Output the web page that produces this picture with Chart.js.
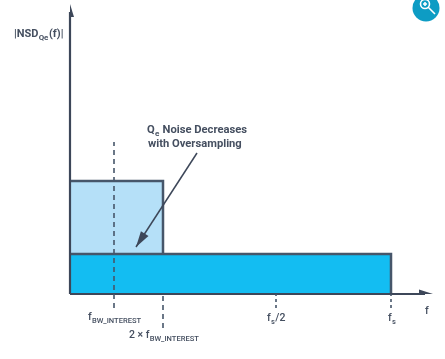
<!DOCTYPE html>
<html>
<head>
<meta charset="utf-8">
<script src="https://cdn.jsdelivr.net/npm/chart.js@4"></script>
<style>
html, body { margin: 0; padding: 0; background: #fff; }
canvas { display: block; }
</style>
</head>
<body>
<canvas id="chart" width="445" height="359"></canvas>
<script>
// frequency positions on the (not to scale) f axis, in axis units
const fBw = 44;
const twoFBw = 93;
const fsHalf = 206;
const fs = 321;
const xEnd = 363;
const yEnd = 290;

// noise density levels
const levelBefore = 113;
const levelAfter = 40;

// how far each dashed marker runs
const bwDash = [-14, 152];
const twoBwDash = [-34, 0];
const fsHalfDash = [-14, 0];
const fsDash = [-14, 0];

// callout arrow from the text down to the band
const calloutStart = [127, 141];
const calloutTip = [66, 47];

const axisColor = '#3d4759';
const edgeColor = '#46566a';
const textColor = '#454f60';

// text runs: [string, isSubscript]
const labels = [
    { x: 14, y: 37, bold: true, size: 11, parts: [['|NSD', 0], ['Qe', 1], ['(f)|', 0]] },
    { x: 147, y: 133, bold: true, size: 11.2, parts: [['Q', 0], ['e', 1], [' Noise Decreases', 0]] },
    { x: 148, y: 147, bold: true, size: 11.2, parts: [['with Oversampling', 0]] },
    { x: 88, y: 320, size: 10.5, parts: [['f', 0], ['BW_INTEREST', 1]] },
    { x: 129, y: 338, size: 10.5, parts: [['2 × f', 0], ['BW_INTEREST', 1]] },
    { x: 267, y: 321, size: 10.5, parts: [['f', 0], ['s', 1], ['/2', 0]] },
    { x: 388, y: 321, size: 10.5, parts: [['f', 0], ['s', 1]] },
    { x: 425, y: 314, size: 10.5, parts: [['f', 0]] }
];

function segment(x1, y1, x2, y2, color, width, dash) {
    return {
        data: [{ x: x1, y: y1 }, { x: x2, y: y2 }],
        borderColor: color,
        borderWidth: width,
        borderDash: dash || [],
        pointRadius: 0,
        showLine: true,
        clip: false
    };
}

function head(points) {
    return {
        data: points.map(p => ({ x: p[0], y: p[1] })),
        borderColor: axisColor,
        backgroundColor: axisColor,
        borderWidth: 0,
        pointRadius: 0,
        showLine: true,
        fill: 'shape',
        clip: false
    };
}

function block(level, right, color) {
    return {
        data: [{ x: 0, y: level }, { x: right, y: level }, { x: right, y: 0 }],
        borderColor: edgeColor,
        backgroundColor: color,
        borderWidth: 2.5,
        pointRadius: 0,
        showLine: true,
        fill: 'origin',
        clip: false
    };
}

// barb of the callout arrow, worked out from its direction
const dx = calloutTip[0] - calloutStart[0];
const dy = calloutTip[1] - calloutStart[1];
const len = Math.hypot(dx, dy);
const ux = dx / len, uy = dy / len;
const calloutHead = [
    calloutTip,
    [calloutTip[0] - ux * 16 - uy * 4.5, calloutTip[1] - uy * 16 + ux * 4.5],
    [calloutTip[0] - ux * 16 + uy * 4.5, calloutTip[1] - uy * 16 - ux * 4.5],
    calloutTip
];

const textPlugin = {
    id: 'textPlugin',
    afterDatasetsDraw(chart) {
        const ctx = chart.ctx;
        ctx.save();
        ctx.fillStyle = textColor;
        ctx.textBaseline = 'alphabetic';
        labels.forEach(l => {
            let x = l.x;
            l.parts.forEach(p => {
                const size = p[1] ? l.size * 0.72 : l.size;
                ctx.font = (l.bold ? '700 ' : '500 ') + size + 'px Roboto';
                ctx.fillText(p[0], x, l.y + (p[1] ? 3 : 0));
                x += ctx.measureText(p[0]).width + (p[1] ? 0.5 : 0.2);
            });
        });

        // zoom badge in the corner
        ctx.fillStyle = '#0d9cc4';
        ctx.beginPath();
        ctx.arc(426, 8, 13.5, 0, Math.PI * 2);
        ctx.fill();
        ctx.strokeStyle = '#fff';
        ctx.lineWidth = 1.6;
        ctx.beginPath();
        ctx.arc(425, 4, 4.5, 0, Math.PI * 2);
        ctx.moveTo(428.5, 7.5);
        ctx.lineTo(435, 14);
        ctx.moveTo(423, 4);
        ctx.lineTo(427, 4);
        ctx.moveTo(425, 2);
        ctx.lineTo(425, 6);
        ctx.stroke();
        ctx.restore();
    }
};

new Chart(document.getElementById('chart'), {
    type: 'scatter',
    data: {
        datasets: [
            head(calloutHead),
            segment(calloutStart[0], calloutStart[1], calloutTip[0], calloutTip[1], axisColor, 1.5),
            segment(fBw, bwDash[0], fBw, bwDash[1], edgeColor, 1.6, [5, 4]),
            segment(twoFBw, twoBwDash[0], twoFBw, twoBwDash[1], edgeColor, 1.6, [5, 4]),
            segment(fsHalf, fsHalfDash[0], fsHalf, fsHalfDash[1], edgeColor, 1.6, [3, 3]),
            segment(fs, fsDash[0], fs, fsDash[1], edgeColor, 1.6, [3, 3]),
            head([[xEnd, 0], [xEnd - 14, 4.5], [xEnd - 14, -4.5], [xEnd, 0]]),
            head([[0, yEnd], [4, yEnd - 13], [-4, yEnd - 13], [0, yEnd]]),
            segment(0, 0, xEnd - 8, 0, axisColor, 2.2),
            segment(0, 0, 0, yEnd - 8, axisColor, 2.2),
            block(levelAfter, fs, '#13bdf2'),
            block(levelBefore, twoFBw, '#b5e0f8')
        ]
    },
    options: {
        responsive: false,
        animation: false,
        layout: { padding: { left: 70, right: 12, top: 4, bottom: 65 } },
        plugins: { legend: { display: false }, tooltip: { enabled: false } },
        scales: {
            x: { type: 'linear', display: false, min: 0, max: xEnd },
            y: { type: 'linear', display: false, min: 0, max: yEnd }
        }
    },
    plugins: [textPlugin]
});
</script>
</body>
</html>
